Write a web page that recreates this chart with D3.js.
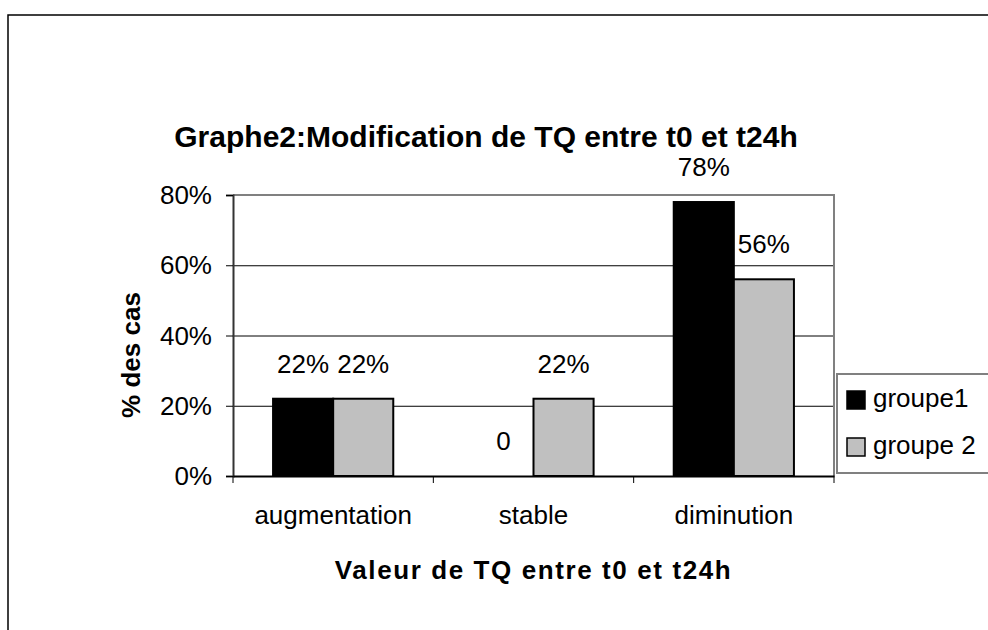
<!DOCTYPE html>
<html>
<head>
<meta charset="utf-8">
<script src="https://cdn.jsdelivr.net/npm/d3@7"></script>
<style>
  html, body { margin: 0; padding: 0; background: #fff; }
  svg { display: block; font-family: "Liberation Sans", Arial, sans-serif; }
</style>
</head>
<body>
<div id="chart"></div>
<script>
// donnees
const categories = ["augmentation", "stable", "diminution"];
const series = ["groupe1", "groupe 2"];
const groupe1 = [0.22, 0, 0.78];
const groupe2 = [0.22, 0.22, 0.56];
const yTicks = [0, 0.2, 0.4, 0.6, 0.8];

const width = 988, height = 630;
const margin = {left: 233, right: 834, top: 195, bottom: 476};
const colors = {"groupe1": "#000000", "groupe 2": "#c0c0c0"};

const rows = categories.map((c, i) => ({cat: c, values: [
  {key: series[0], v: groupe1[i]},
  {key: series[1], v: groupe2[i]}
]}));

const svg = d3.select("#chart").append("svg")
  .attr("width", width)
  .attr("height", height);

// cadre de la page
svg.append("path")
  .attr("d", `M8,${height} L8,15 L${width},15`)
  .attr("fill", "none")
  .attr("stroke", "#000")
  .attr("stroke-width", 1.5);

const x0 = d3.scaleBand(categories, [margin.left, margin.right])
  .paddingInner(0.4)
  .paddingOuter(0.2);
const x1 = d3.scaleBand(series, [0, x0.bandwidth()]);
const y = d3.scaleLinear([0, 0.8], [margin.bottom, margin.top]);

// quadrillage
svg.append("g")
  .selectAll("line")
  .data(yTicks.filter(t => t > 0 && t < 0.8))
  .join("line")
  .attr("x1", margin.left).attr("x2", margin.right)
  .attr("y1", d => y(d) + 0.5).attr("y2", d => y(d) + 0.5)
  .attr("stroke", "#000")
  .attr("stroke-width", 1);

// bordure de la zone de trace (haut et droite)
svg.append("path")
  .attr("d", `M${margin.left},${y(0.8)} L${margin.right},${y(0.8)} L${margin.right},${margin.bottom}`)
  .attr("fill", "none")
  .attr("stroke", "#808080")
  .attr("stroke-width", 2);

// barres
const groups = svg.append("g")
  .selectAll("g")
  .data(rows)
  .join("g")
  .attr("transform", d => `translate(${x0(d.cat)},0)`);

groups.selectAll("rect")
  .data(d => d.values.filter(v => v.v > 0))
  .join("rect")
  .attr("x", d => x1(d.key))
  .attr("y", d => y(d.v))
  .attr("width", x1.bandwidth())
  .attr("height", d => y(0) - y(d.v))
  .attr("fill", d => colors[d.key])
  .attr("stroke", "#000")
  .attr("stroke-width", 2);

// etiquettes de donnees
groups.selectAll("text")
  .data(d => d.values)
  .join("text")
  .attr("x", d => x1(d.key) + x1.bandwidth() / 2)
  .attr("y", d => y(d.v) - 26)
  .attr("text-anchor", "middle")
  .style("font-size", "26px")
  .text(d => d.v === 0 ? "0" : d3.format(".0%")(d.v));

// axe Y
const yAxis = svg.append("g")
  .attr("transform", `translate(${margin.left},0)`)
  .call(d3.axisLeft(y).tickValues(yTicks).tickFormat(d3.format(".0%")).tickSize(7).tickPadding(14));
yAxis.select(".domain").attr("stroke", "#333").attr("stroke-width", 2);
yAxis.selectAll(".tick line").attr("stroke", "#000");
yAxis.selectAll(".tick text")
  .attr("fill", "#000")
  .style("font-size", "26px")
  .attr("dy", "0.33em");

// axe X
const xAxis = svg.append("g")
  .attr("transform", `translate(0,${margin.bottom})`)
  .call(d3.axisBottom(x0).tickSize(0).tickPadding(48).tickSizeOuter(0));
xAxis.select(".domain").attr("stroke", "#000").attr("stroke-width", 2);
xAxis.selectAll(".tick text")
  .attr("fill", "#000")
  .attr("dy", 0)
  .style("font-size", "26px");

// graduations entre categories
const bounds = [margin.left, ...categories.slice(1).map(c => x0(c) - x0.step() * x0.paddingInner() / 2), margin.right];
svg.append("g")
  .selectAll("line")
  .data(bounds)
  .join("line")
  .attr("x1", d => d).attr("x2", d => d)
  .attr("y1", margin.bottom).attr("y2", margin.bottom + 7)
  .attr("stroke", "#000");

// titres
svg.append("text")
  .attr("x", 486)
  .attr("y", 147)
  .attr("text-anchor", "middle")
  .style("font-size", "30px")
  .style("font-weight", "bold")
  .text("Graphe2:Modification de TQ entre t0 et t24h");

svg.append("text")
  .attr("x", (margin.left + margin.right) / 2)
  .attr("y", 579)
  .attr("text-anchor", "middle")
  .style("font-size", "26px")
  .style("font-weight", "bold")
  .style("letter-spacing", "1.6px")
  .text("Valeur de TQ entre t0 et t24h");

svg.append("text")
  .attr("transform", "translate(140,355) rotate(-90)")
  .attr("text-anchor", "middle")
  .style("font-size", "26px")
  .style("font-weight", "bold")
  .text("% des cas");

// legende
const legend = svg.append("g");
legend.append("rect")
  .attr("x", 837).attr("y", 374)
  .attr("width", 170).attr("height", 99)
  .attr("fill", "#fff")
  .attr("stroke", "#808080")
  .attr("stroke-width", 2);

const item = legend.selectAll("g")
  .data(series)
  .join("g")
  .attr("transform", (d, i) => `translate(847,${391 + i * 47})`);
item.append("rect")
  .attr("width", 18).attr("height", 18)
  .attr("fill", d => colors[d])
  .attr("stroke", "#000")
  .attr("stroke-width", 1.5);
item.append("text")
  .attr("x", 26)
  .attr("y", 16)
  .style("font-size", "26px")
  .text(d => d);
</script>
</body>
</html>
